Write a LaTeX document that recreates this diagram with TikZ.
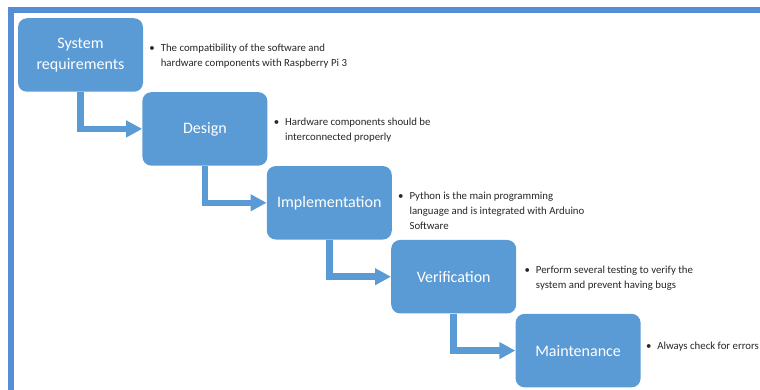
\documentclass[tikz,border=0pt]{standalone}
\usepackage{fontspec}
\setmainfont{Carlito}
\usetikzlibrary{arrows.meta, positioning}
\usepackage{xcolor}
\definecolor{StageBlue}{RGB}{91,155,213}
\definecolor{FrameBlue}{RGB}{85,142,213}
\definecolor{NoteGray}{RGB}{38,38,38}

\newcommand{\point}[1]{\textbullet\hspace{6pt}\begin{tabular}[t]{@{}l@{}}#1\end{tabular}}

\begin{document}
\begin{tikzpicture}[
          x=1pt, y=-1pt,
          stage/.style={rectangle, rounded corners=9pt, fill=StageBlue, text=white, minimum width=125pt, minimum height=73.5pt, align=center, font=\fontsize{16}{21}\selectfont},
          note/.style={inner sep=0pt, text=NoteGray, font=\fontsize{10.8}{15}\selectfont},
          flow/.style={-{Triangle[length=16pt, width=16pt]}, line width=6.5pt, StageBlue}
        ]
          \useasboundingbox (0,0) rectangle (760,390);
          \draw[line width=6pt, FrameBlue] (760,10) -- (11,10) -- (11,390);

          \node (sysreq) [stage] at (80.5,55) {System\\requirements};
          \node (design) [stage, below right=0pt and -1pt of sysreq] {Design};
          \node (implement) [stage, below right=0pt and -1pt of design] {Implementation};
          \node (verify) [stage, below right=0pt and -1pt of implement] {Verification};
          \node (maintain) [stage, below right=0pt and -1pt of verify] {Maintenance};

          \node (sysreqnote) [note, below right=-14pt and 6pt of sysreq.east] {\point{The compatibility of the software and\\hardware components with Raspberry Pi 3}};
          \node (designnote) [note, below right=-14pt and 6pt of design.east] {\point{Hardware components should be\\interconnected properly}};
          \node (implementnote) [note, below right=-14pt and 6pt of implement.east] {\point{Python is the main programming\\language and is integrated with Arduino\\Software}};
          \node (verifynote) [note, below right=-14pt and 8pt of verify.east] {\point{Perform several testing to verify the\\system and prevent having bugs}};
          \node (maintainnote) [note, below right=-12pt and 5pt of maintain.east] {\point{Always check for errors}};

          \draw[flow] (sysreq.south) |- (design.west);
          \draw[flow] (design.south) |- (implement.west);
          \draw[flow] (implement.south) |- (verify.west);
          \draw[flow] (verify.south) |- (maintain.west);
        \end{tikzpicture}
\end{document}
